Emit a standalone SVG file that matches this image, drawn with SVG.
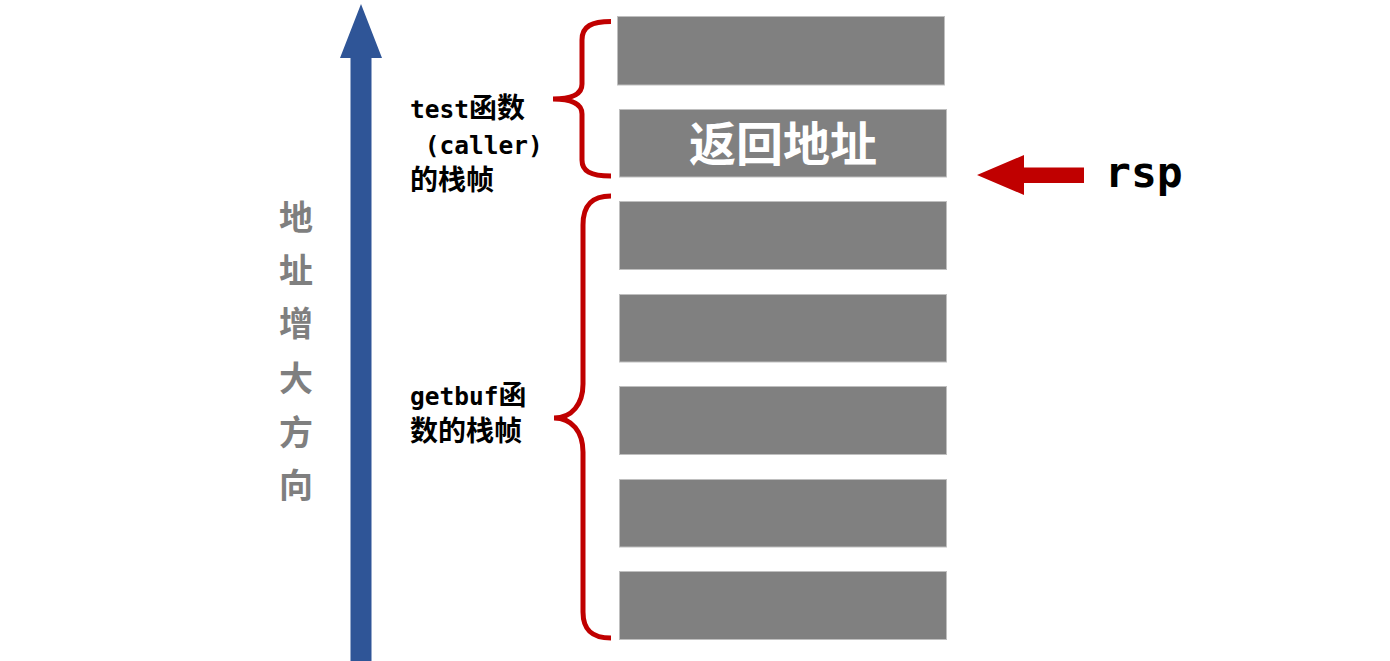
<svg xmlns="http://www.w3.org/2000/svg" width="1390" height="661" viewBox="0 0 1390 661">
<style>
.cell{fill:#808080;stroke:#bfbfbf;stroke-width:1}
.brace{fill:none;stroke:#C00000;stroke-width:5;stroke-linecap:butt}
.lbl{font-family:"DejaVu Sans Mono","Liberation Mono","Noto Sans CJK SC",monospace;font-weight:bold;font-size:24.5px;fill:#000}
.cjk{font-family:"Noto Sans CJK SC",sans-serif;font-size:28px}
.vert{font-family:"Noto Sans CJK SC",sans-serif;font-weight:bold;font-size:34px;fill:#7f7f7f;text-anchor:middle}
</style>
<rect width="1390" height="661" fill="#ffffff"/>
<g id="axis">
<polygon points="350.5,661 350.5,58 340,58 361,4 382,58 371.5,58 371.5,661" fill="#2F5597"/>
<text class="vert"><tspan x="296" y="230">地</tspan><tspan x="296" y="283">址</tspan><tspan x="296" y="336">增</tspan><tspan x="296" y="391">大</tspan><tspan x="296" y="445">方</tspan><tspan x="296" y="498">向</tspan></text>
</g>
<g id="stack">
<rect id="slot1" class="cell" x="617.5" y="16.5" width="327" height="68.5"/>
<g id="slot2"><rect class="cell" x="619.5" y="109.5" width="327" height="67.5"/>
<text x="783" y="161" font-family="Noto Sans CJK SC,sans-serif" font-weight="bold" font-size="47" fill="#ffffff" text-anchor="middle">返回地址</text></g>
<rect id="slot3" class="cell" x="619.5" y="201.5" width="327" height="68"/>
<rect id="slot4" class="cell" x="619.5" y="294.5" width="327" height="67.5"/>
<rect id="slot5" class="cell" x="619.5" y="386.5" width="327" height="68"/>
<rect id="slot6" class="cell" x="619.5" y="479.5" width="327" height="67.5"/>
<rect id="slot7" class="cell" x="619.5" y="571.5" width="327" height="68"/>
</g>
<g id="labels">
<g id="test-label"><text class="lbl" x="410" y="118">test<tspan class="cjk">函数</tspan></text>
<text class="lbl" x="410" y="154" xml:space="preserve"> (caller)</text>
<text class="lbl" x="410" y="190"><tspan class="cjk">的栈帧</tspan></text></g>
<g id="getbuf-label"><text class="lbl" x="410" y="405">getbuf<tspan class="cjk">函</tspan></text>
<text class="lbl" x="410" y="441"><tspan class="cjk">数的栈帧</tspan></text></g>
<text id="rsp" x="1105" y="187" font-family="DejaVu Sans Mono,monospace" font-weight="bold" font-size="43" fill="#000">rsp</text>
</g>
<g id="connectors">
<path class="brace" d="M611,21.5 C592,21.5 582,26 582,40 L582,84 C582,94 572,99 553,99 C572,99 582,104 582,114 L582,160 C582,171 590,176 611,176"/>
<path class="brace" d="M611,196 C592,196 583,205 583,225 L583,384 C583,404 572,418 554,418 C572,418 583,432 583,452 L583,612 C583,630 592,638 611,638"/>
<polygon points="1084,167.5 1024,167.5 1024,155 977,175 1024,195 1024,183 1084,183" fill="#C00000"/>
</g>
</svg>
